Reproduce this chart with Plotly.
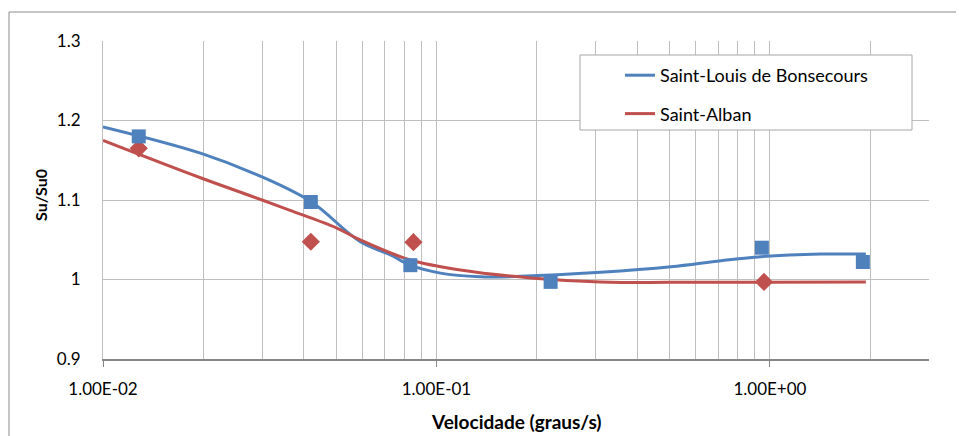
import plotly.graph_objects as go

# measured data points
slb_x = [0.0128, 0.042, 0.0835, 0.22, 0.946, 1.90]
slb_y = [1.180, 1.0975, 1.018, 0.997, 1.040, 1.022]
sa_x = [0.0128, 0.042, 0.0853, 0.96]
sa_y = [1.165, 1.0475, 1.047, 0.997]

# smoothed fitted curves
slb_fit_x = [0.01, 0.0196, 0.030, 0.042, 0.0591, 0.0728, 0.0835, 0.1028, 0.1356, 0.1788, 0.3107, 0.505, 0.713, 0.940, 1.422, 1.94]
slb_fit_y = [1.192, 1.159, 1.129, 1.098, 1.0475, 1.031, 1.018, 1.008, 1.0035, 1.004, 1.009, 1.016, 1.0236, 1.0287, 1.032, 1.032]
sa_fit_x = [0.01, 0.0196, 0.030, 0.0364, 0.0501, 0.0591, 0.0835, 0.118, 0.1915, 0.311, 0.621, 1.94]
sa_fit_y = [1.175, 1.128, 1.100, 1.087, 1.065, 1.0497, 1.0245, 1.012, 1.002, 0.997, 0.9965, 0.997]

x_major = [0.01, 0.1, 1]
x_major_text = ["1.00E-02", "1.00E-01", "1.00E+00"]
x_minor = [0.02, 0.03, 0.04, 0.05, 0.06, 0.07, 0.08, 0.09,
           0.2, 0.3, 0.4, 0.5, 0.6, 0.7, 0.8, 0.9, 2, 3]
y_ticks = [0.9, 1.0, 1.1, 1.2, 1.3]
y_text = ["0.9", "1", "1.1", "1.2", "1.3"]

BLUE = "#4f81bd"
RED = "#c0504d"
GRID = "#bfbfbf"
FONT = "Lato"

fig = go.Figure()
fig.add_trace(go.Scatter(x=slb_fit_x, y=slb_fit_y, mode="lines", name="Saint-Louis de Bonsecours",
                         line=dict(color=BLUE, width=3, shape="spline", smoothing=1.0),
                         legendgroup="a"))
fig.add_trace(go.Scatter(x=sa_fit_x, y=sa_fit_y, mode="lines", name="Saint-Alban",
                         line=dict(color=RED, width=3, shape="spline", smoothing=1.0),
                         legendgroup="b"))
fig.add_trace(go.Scatter(x=sa_x, y=sa_y, mode="markers", showlegend=False,
                         marker=dict(symbol="diamond", size=14, color=RED)))
fig.add_trace(go.Scatter(x=slb_x, y=slb_y, mode="markers", showlegend=False,
                         marker=dict(symbol="square", size=14, color=BLUE)))

# page body has an 8px margin; work in reference-picture pixels and subtract it
OFF = 8
W, H = 964 - OFF, 436 - OFF
L, R, T, B = 103 - OFF, 964 - 929, 41 - OFF, 436 - 359
pw, ph = W - L - R, H - T - B

def px(xp):
    return (xp - OFF - L) / pw

def py(yp):
    return (H - B - (yp - OFF)) / ph

fig.update_layout(
    width=W, height=H,
    margin=dict(l=L, r=R, t=T, b=B),
    paper_bgcolor="white", plot_bgcolor="white",
    font=dict(family=FONT, size=17, color="#000000"),
    showlegend=True,
    legend=dict(x=px(620), y=py(57), xanchor="left", yanchor="top",
                bgcolor="rgba(0,0,0,0)", borderwidth=0,
                font=dict(family=FONT, size=18), tracegroupgap=12),
    xaxis=dict(type="log", range=[-2, 0.47712], tickmode="array", tickvals=x_major,
               ticktext=x_major_text, showgrid=True, gridcolor=GRID, gridwidth=1,
               ticks="outside", ticklen=6, tickcolor="#868686",
               showline=True, linecolor="#868686", linewidth=2, mirror=False,
               zeroline=False, tickfont=dict(size=17), ticklabelstandoff=8,
               minor=dict(tickmode="array", tickvals=x_minor, showgrid=True,
                          gridcolor=GRID, gridwidth=1, ticks="")),
    yaxis=dict(range=[0.9, 1.3], tickmode="array", tickvals=y_ticks, ticktext=y_text,
               showgrid=True, gridcolor=GRID, gridwidth=1, zeroline=False,
               showline=True, linecolor=GRID, ticks="", ticklabelstandoff=18,
               tickfont=dict(size=17)),
    yaxis2=dict(range=[0.9, 1.3], overlaying="y", anchor="free", position=2 / 2.47712,
                side="left", showgrid=False, zeroline=False, showline=True,
                linecolor="#868686", linewidth=2, ticks="outside", ticklen=4,
                tickcolor="#868686", tickvals=y_ticks, showticklabels=False),
)

# outer chart border and legend box
fig.add_shape(type="rect", xref="paper", yref="paper",
              x0=px(9), x1=px(968), y0=py(440), y1=py(12),
              line=dict(color="#8c8c8c", width=1), fillcolor="rgba(0,0,0,0)", layer="below")
fig.add_shape(type="rect", xref="paper", yref="paper",
              x0=px(580), x1=px(912), y0=py(130), y1=py(55),
              line=dict(color="#a6a6a6", width=1), fillcolor="white", layer="above")

fig.add_annotation(text="<b>Velocidade (graus/s)</b>", xref="paper", yref="paper",
                   x=0.5, y=py(421), xanchor="center", yanchor="middle", showarrow=False,
                   font=dict(family=FONT, size=19))
fig.add_annotation(text="<b>Su/Su0</b>", xref="paper", yref="paper",
                   x=px(40), y=py(195), xanchor="center", yanchor="middle", showarrow=False,
                   textangle=-90, font=dict(family=FONT, size=16))

fig.write_html("out.html")
